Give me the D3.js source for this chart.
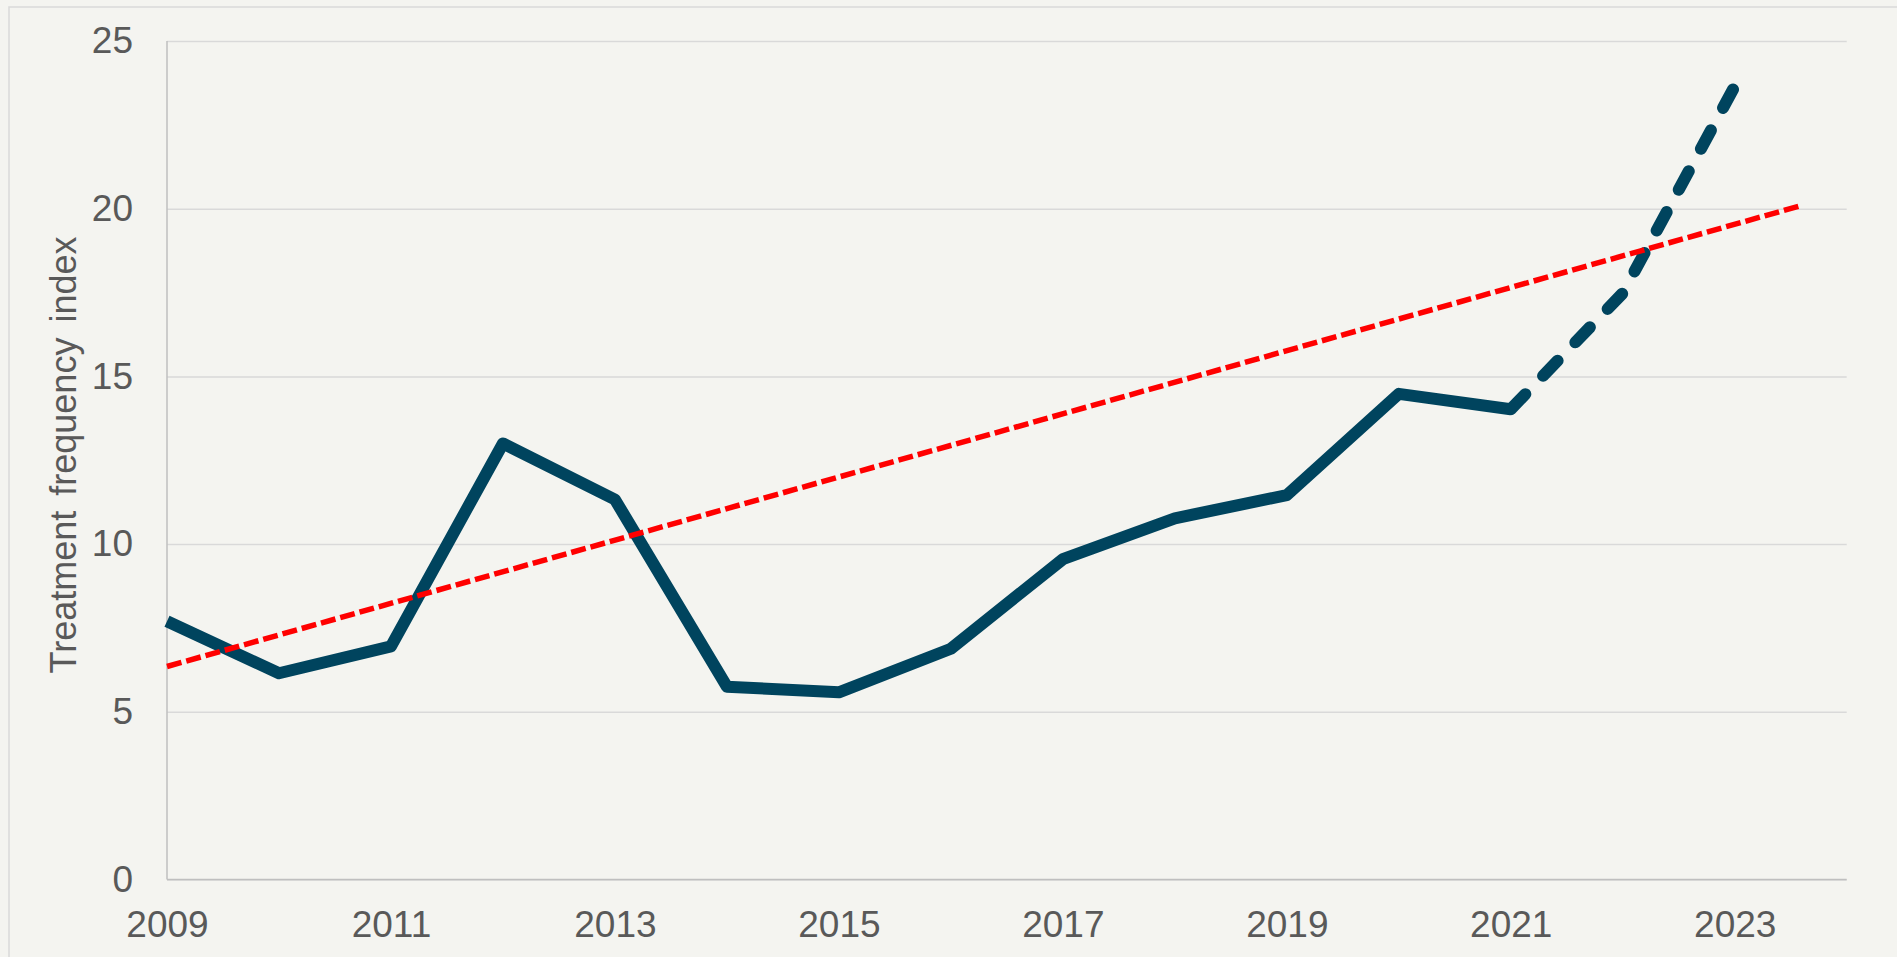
<!DOCTYPE html>
<html>
<head>
<meta charset="utf-8">
<script src="https://cdn.jsdelivr.net/npm/d3@7"></script>
<style>
  html, body { margin: 0; padding: 0; background: #f4f4f0; }
  svg { display: block; }
  text { font-family: "Liberation Sans", Arial, sans-serif; }
</style>
</head>
<body>
<svg id="chart" width="1897" height="957"></svg>
<script>
// ---- data ----
const years = [2009, 2010, 2011, 2012, 2013, 2014, 2015, 2016, 2017, 2018, 2019, 2020, 2021, 2022, 2023];
const values = [7.7, 6.15, 6.95, 13.0, 11.33, 5.75, 5.58, 6.88, 9.55, 10.77, 11.46, 14.48, 14.02, 17.48, 23.65];
const projectionStartYear = 2021;
const trendYears = [2009, 2023.6];
const trendValues = [6.35, 20.1];
const xTickLabels = [2009, 2011, 2013, 2015, 2017, 2019, 2021, 2023];
const yTickLabels = [0, 5, 10, 15, 20, 25];
const yTitle = "Treatment frequency index";

// ---- layout ----
const W = 1897, H = 957;
const mLeft = 167, mRight = 1846.7, mTop = 41, mBottom = 879.5;

const svg = d3.select("#chart");
svg.append("rect").attr("width", W).attr("height", H).attr("fill", "#f4f4f0");
svg.append("rect").attr("x", 9).attr("y", 7).attr("width", W + 50).attr("height", H + 50)
  .attr("fill", "none").attr("stroke", "#d9d9d9").attr("stroke-width", 1.5);

const x = d3.scaleLinear().domain([2009, 2024]).range([mLeft, mRight]);
const y = d3.scaleLinear().domain([0, 25]).range([mBottom, mTop]);

// gridlines + y labels
const yAxis = svg.append("g").attr("transform", `translate(${mLeft},0)`)
  .call(d3.axisLeft(y).tickValues(yTickLabels).tickSize(-(mRight - mLeft)).tickPadding(34).tickFormat(d3.format("d")));
yAxis.select(".domain").remove();
yAxis.selectAll(".tick line").attr("stroke", "#d9d9d9").attr("stroke-width", 1.5);
yAxis.selectAll(".tick text").attr("fill", "#595959").style("font-size", "37px")
  .style("font-family", '"Liberation Sans", Arial, sans-serif');

// x axis labels
const xAxis = svg.append("g").attr("transform", `translate(0,${mBottom})`)
  .call(d3.axisBottom(x).tickValues(xTickLabels).tickSize(0).tickPadding(31).tickFormat(d3.format("d")));
xAxis.select(".domain").remove();
xAxis.selectAll(".tick text").attr("fill", "#595959").style("font-size", "37px")
  .style("font-family", '"Liberation Sans", Arial, sans-serif');

// axis lines
svg.append("line").attr("x1", mLeft).attr("x2", mLeft).attr("y1", y(25)).attr("y2", mBottom)
  .attr("stroke", "#bfbfbf").attr("stroke-width", 1.5);
svg.append("line").attr("x1", mLeft).attr("x2", mRight).attr("y1", mBottom).attr("y2", mBottom)
  .attr("stroke", "#bfbfbf").attr("stroke-width", 1.5);

// y title
svg.append("text")
  .attr("transform", `translate(76,455) rotate(-90)`)
  .attr("text-anchor", "middle")
  .attr("fill", "#595959")
  .style("font-size", "36px")
  .style("word-spacing", "5px")
  .text(yTitle);

const data = years.map((yr, i) => ({ year: yr, value: values[i] }));
const line = d3.line().x(d => x(d.year)).y(d => y(d.value));
const solid = data.filter(d => d.year <= projectionStartYear);
const dashed = data.filter(d => d.year >= projectionStartYear);

svg.append("path").datum(solid).attr("d", line)
  .attr("fill", "none").attr("stroke", "#00445e").attr("stroke-width", 12)
  .attr("stroke-linejoin", "round");
svg.append("path").datum(dashed).attr("d", line)
  .attr("fill", "none").attr("stroke", "#00445e").attr("stroke-width", 12)
  .attr("stroke-linecap", "round").attr("stroke-linejoin", "round")
  .attr("stroke-dasharray", "21 25.5");

// trend line
const trend = trendYears.map((yr, i) => ({ year: yr, value: trendValues[i] }));
svg.append("path").datum(trend).attr("d", line)
  .attr("fill", "none").attr("stroke", "#ff0000").attr("stroke-width", 5.5)
  .attr("stroke-dasharray", "15 5");
</script>
</body>
</html>
